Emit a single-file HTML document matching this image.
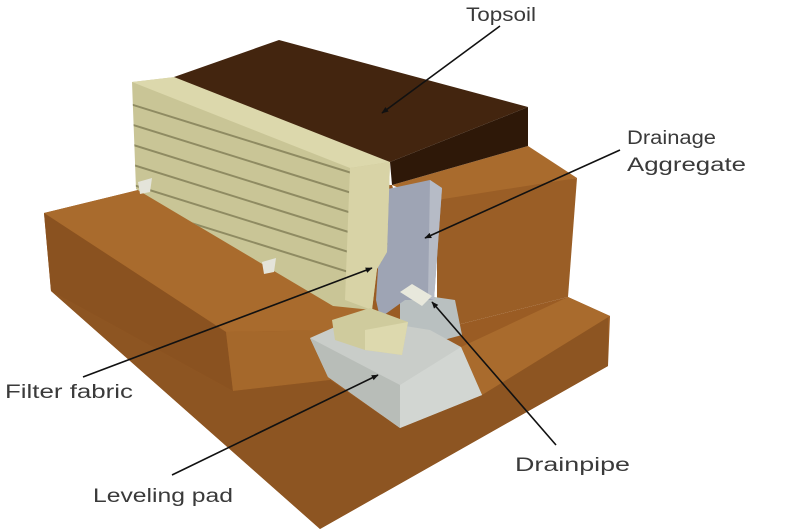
<!DOCTYPE html>
<html><head><style>
html,body{margin:0;padding:0;background:#fff;}
svg{display:block;}
text{font-family:"Liberation Sans",sans-serif;font-size:19px;fill:#3a3a3a;}
</style></head><body>
<svg width="800" height="531" viewBox="0 0 800 531" xmlns="http://www.w3.org/2000/svg">
<defs>
<clipPath id="wall"><polygon points="132,82 390,162 387,252 377,269 372,310 333,306 136,189"/></clipPath>
<marker id="ar" viewBox="0 0 10 10" refX="9" refY="5" markerWidth="7" markerHeight="7" orient="auto" markerUnits="userSpaceOnUse"><path d="M0,1 L10,5 L0,9 z" fill="#111"/></marker>
</defs>
<!-- right upper tier -->
<polygon points="392,185 528,146 577,178 437,205" fill="#a96b2d"/>
<polygon points="437,200 577,178 568,297 437,330" fill="#9a5e26"/>
<!-- base mass -->
<polygon points="44,213 51,291 320,529 608,366 610,316 568,297 437,330 392,185 138,190" fill="#9a5c24"/>
<!-- upper-left tier top -->
<polygon points="44,213 138,190 372,310 340,330 226,332" fill="#a96b2d"/>
<!-- upper-left front face -->
<polygon points="44,213 226,332 233,391 51,291" fill="#8a5220"/>
<!-- lower step top left -->
<polygon points="226,332 340,330 330,380 233,391" fill="#a5682b"/>
<!-- lower front face -->
<polygon points="51,291 233,391 330,380 400,428 482,395 608,316 608,366 320,529" fill="#8d5522"/>
<!-- right lower step top -->
<polygon points="482,395 461,347 568,297 610,316" fill="#a96b2d"/>
<!-- gravel behind -->
<polygon points="400,292 455,300 462,335 425,345 400,320" fill="#b9c0c0"/>
<!-- leveling pad -->
<polygon points="310,338 355,318 430,330 461,347 482,395 400,428 328,377" fill="#c9cdc9"/>
<polygon points="310,338 400,385 400,428 328,377" fill="#b8bdb8"/>
<polygon points="400,385 461,347 482,395 400,428" fill="#d2d6d2"/>
<!-- drainage aggregate -->
<polygon points="383,190 430,180 442,188 434,300 405,300 380,318 376,300" fill="#9ea4b4"/>
<polygon points="430,180 442,188 434,300 428,298" fill="#b6bbc6"/>
<!-- drainpipe -->
<polygon points="400,292 412,284 432,296 422,306" fill="#e8e8dc"/>
<!-- wall -->
<polygon points="132,82 175,77 390,162 387,252 377,269 372,310 333,306 136,189" fill="#c9c596"/>
<g clip-path="url(#wall)" stroke="#8f8b62" stroke-width="2" fill="none">
<line x1="130" y1="104" x2="400" y2="188"/>
<line x1="130" y1="124" x2="400" y2="208"/>
<line x1="130" y1="144" x2="400" y2="228"/>
<line x1="130" y1="164" x2="400" y2="248"/>
<line x1="130" y1="184" x2="400" y2="268"/>
<line x1="130" y1="204" x2="400" y2="288"/>
</g>
<polygon points="132,82 175,77 390,162 350,168" fill="#dcd8ac"/>
<polygon points="350,168 390,162 387,252 377,269 372,310 345,300" fill="#d8d3a6"/>
<!-- small block -->
<polygon points="332,320 370,308 408,322 402,355 365,350 335,340" fill="#cfcb9d"/>
<polygon points="365,330 408,322 402,355 365,350" fill="#ddd9ae"/>
<!-- weep pipes -->
<polygon points="138,182 152,178 150,192 140,194" fill="#e4e4da"/>
<polygon points="262,262 276,258 274,272 264,274" fill="#e4e4da"/>
<!-- topsoil -->
<polygon points="174,77 279,40 528,107 390,162" fill="#43250f"/>
<polygon points="390,162 528,107 528,146 392,185" fill="#2e1808"/>
<!-- labels & leaders -->
<g stroke="#111" stroke-width="1.6" marker-end="url(#ar)">
<line x1="500" y1="26" x2="382" y2="113"/>
<line x1="620" y1="150" x2="425" y2="238"/>
<line x1="83" y1="377" x2="372" y2="268"/>
<line x1="556" y1="445" x2="432" y2="302"/>
<line x1="172" y1="475" x2="378" y2="375"/>
</g>
<text x="466" y="21" textLength="70" lengthAdjust="spacingAndGlyphs">Topsoil</text>
<text x="627" y="144" textLength="89" lengthAdjust="spacingAndGlyphs">Drainage</text>
<text x="627" y="171" textLength="119" lengthAdjust="spacingAndGlyphs">Aggregate</text>
<text x="5" y="398" textLength="128" lengthAdjust="spacingAndGlyphs">Filter fabric</text>
<text x="515" y="471" textLength="115" lengthAdjust="spacingAndGlyphs">Drainpipe</text>
<text x="93" y="502" textLength="140" lengthAdjust="spacingAndGlyphs">Leveling pad</text>
</svg>
</body></html>
